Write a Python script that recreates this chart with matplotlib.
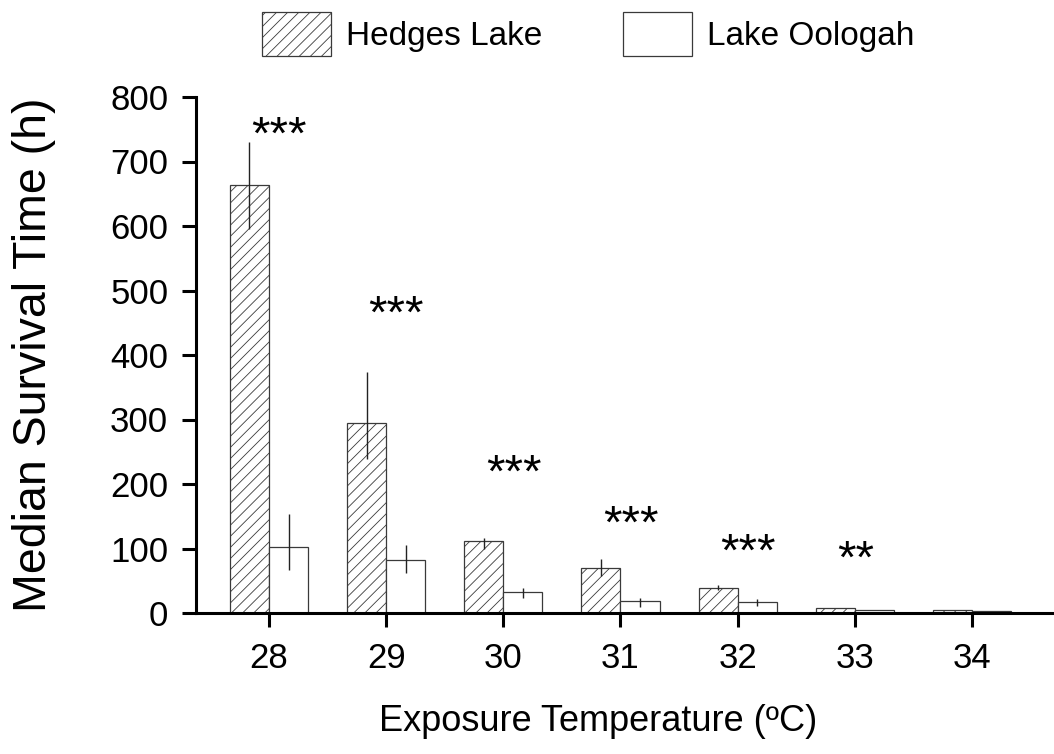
import matplotlib
matplotlib.use("Agg")
import numpy as np
import matplotlib.pyplot as plt

plt.rcParams.update({"font.family": ["Liberation Sans", "DejaVu Sans"],
                     "hatch.linewidth": 0.6})

# median survival time (h) by exposure temperature
temps = [28, 29, 30, 31, 32, 33, 34]
hedges = [664, 295, 112, 70, 39, 7, 4]
hedges_lo = [69, 57, 12, 12, 4, 0, 0]
hedges_hi = [67, 79, 5, 14, 4, 0, 0]
oologah = [102, 82, 32, 18, 17, 4, 3]
oologah_lo = [35, 20, 8, 8, 6, 0, 0]
oologah_hi = [52, 23, 7, 6, 5, 0, 0]
stars = ["***", "***", "***", "***", "***", "**", ""]
star_y = [720, 443, 196, 116, 73, 62, 0]

fig = plt.figure(figsize=(10.54, 7.54), dpi=100)
ax = fig.add_axes([196 / 1054, 1 - 613 / 754, 858 / 1054, 516 / 754])

x = np.array(temps, dtype=float)
w = 0.333
ec = "#3a3a3a"
b1 = ax.bar(x - w, hedges, w, align="edge", facecolor="white", edgecolor=ec,
            hatch="///", linewidth=0.9, label="Hedges Lake")
b2 = ax.bar(x, oologah, w, align="edge", facecolor="white", edgecolor=ec,
            linewidth=0.9, label="Lake Oologah")
ax.errorbar(x - w / 2, hedges, yerr=[hedges_lo, hedges_hi], fmt="none",
            ecolor="#222", elinewidth=1.0, capsize=0)
ax.errorbar(x + w / 2, oologah, yerr=[oologah_lo, oologah_hi], fmt="none",
            ecolor="#222", elinewidth=1.0, capsize=0)

# significance marks above each temperature pair
for t, s, y in zip(temps, stars, star_y):
    if s:
        ax.text(t - 0.15, y, s, ha="left", va="baseline", fontsize=34)

ax.set_xlim(27.377, 34.70)
ax.set_ylim(0, 800)
ax.set_xticks(temps)
ax.set_yticks(range(0, 801, 100))
for side in ("top", "right"):
    ax.spines[side].set_visible(False)
for side in ("left", "bottom"):
    ax.spines[side].set_linewidth(2.2)
ax.tick_params(axis="both", direction="out", length=10, width=2.2,
               labelsize=25)
ax.tick_params(axis="y", pad=10)
ax.tick_params(axis="x", pad=11)

ax.set_ylabel("Median Survival Time (h)", fontsize=33.5)
ax.yaxis.set_label_coords(-0.1626, 0.5)
ax.set_xlabel("Exposure Temperature (ºC)", fontsize=26)
ax.xaxis.set_label_coords(0.4685, -0.176)

fig.legend(handles=[b1, b2], loc="center", bbox_to_anchor=(0.5584, 0.955),
           ncol=2, frameon=False, fontsize=24,
           handlelength=2.07, handleheight=1.65, handletextpad=0.45,
           columnspacing=2.43, borderpad=0)

fig.savefig("out.png", dpi=100)
